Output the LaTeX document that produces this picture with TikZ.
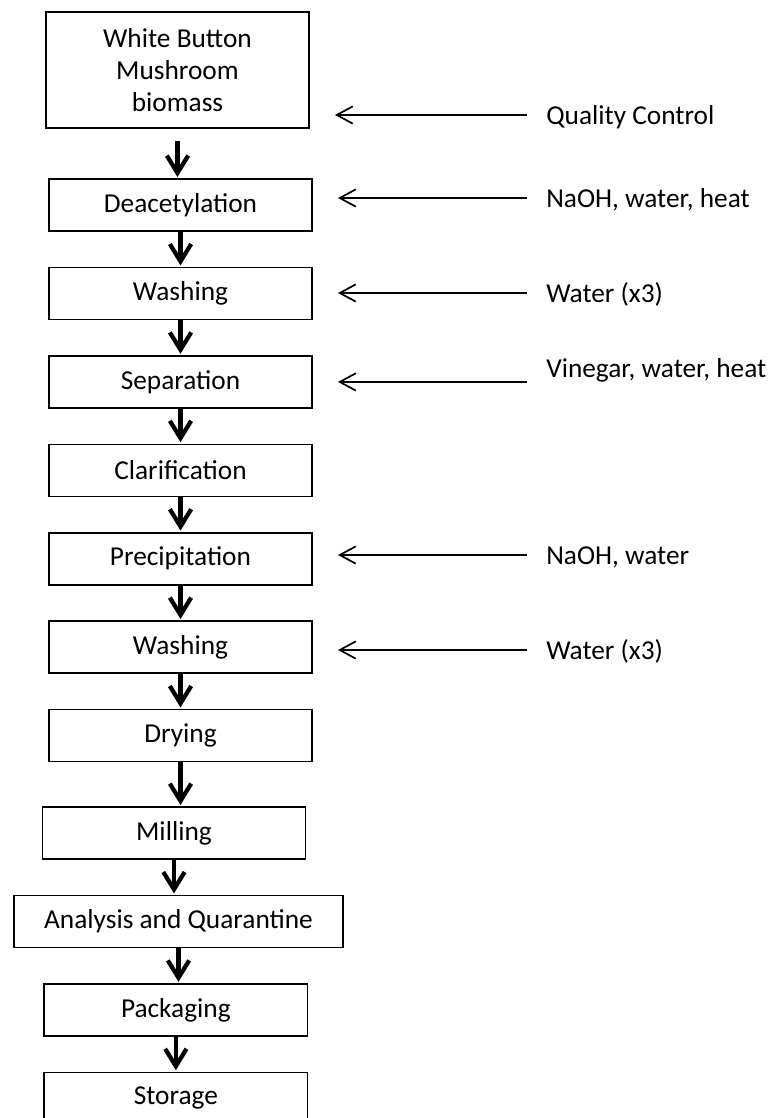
\documentclass[tikz,border=0pt]{standalone}
\usepackage{fontspec}
\setmainfont{Carlito}
\usetikzlibrary{arrows.meta, positioning}
\tikzset{
  process/.style={draw, line width=1.2pt, minimum width=197.5pt, minimum height=39pt, align=center, inner sep=0pt},
  flow/.style={-{Straight Barb[length=13pt, width=16pt]}, line width=3.2pt, shorten >=1pt},
  feed/.style={-{Straight Barb[length=12pt, width=13pt]}, line width=1.3pt, shorten <=14pt, shorten >=18.75pt},
  input/.style={anchor=west, inner sep=0pt, text height=13.5pt, text depth=0pt},
  node distance=26.1pt
}

\begin{document}
\begin{tikzpicture}[x=0.75pt, y=-0.75pt, font=\fontsize{20.5}{24}\selectfont]
\useasboundingbox (0,0) rectangle (770,1118);
% process steps
\node[process, minimum height=87.3pt] (bio) at (177.5,70) {White Button\\Mushroom\\biomass};
\node[process, below=37pt of bio, xshift=2.25pt] (deac) {Deacetylation};
\node[process, below=of deac] (wash1) {Washing};
\node[process, below=of wash1] (sep) {Separation};
\node[process, below=of sep] (clar) {Clarification};
\node[process, below=of clar] (prec) {Precipitation};
\node[process, below=of prec] (wash2) {Washing};
\node[process, below=of wash2] (dry) {Drying};
\node[process, below=33pt of dry, xshift=-4.9pt] (mill) {Milling};
\node[process, below=of mill, xshift=3.4pt, minimum width=247pt] (qa) {Analysis and Quarantine};
\node[process, below=of qa, xshift=-2pt] (pack) {Packaging};
\node[process, below=of pack] (store) {Storage};
\draw[flow, shorten <=9pt] (bio) -- (bio |- deac.north);
\draw[flow] (deac) -- (deac |- wash1.north);
\draw[flow] (wash1) -- (wash1 |- sep.north);
\draw[flow] (sep) -- (sep |- clar.north);
\draw[flow] (clar) -- (clar |- prec.north);
\draw[flow] (prec) -- (prec |- wash2.north);
\draw[flow] (wash2) -- (wash2 |- dry.north);
\draw[flow] (dry) -- (dry |- mill.north);
\draw[flow] (mill) -- (mill |- qa.north);
\draw[flow] (qa) -- (qa |- pack.north);
\draw[flow] (pack) -- (pack |- store.north);
% inputs
\node[input] (qc) at (546,115) {Quality Control};
\node[input] (naoh1) at (546,198) {NaOH, water, heat};
\node[input] (water1) at (546,293) {Water (x3)};
\node[input] (vin) at (546,368) {Vinegar, water, heat};
\node[input] (naoh2) at (546,555) {NaOH, water};
\node[input] (water2) at (546,650) {Water (x3)};
\draw[feed] (qc.west) -- (qc.west -| bio.east);
\draw[feed] (naoh1.west) -- (naoh1.west -| deac.east);
\draw[feed] (water1.west) -- (water1.west -| wash1.east);
\draw[feed] (vin.west |- sep.east) -- (sep.east);
\draw[feed] (naoh2.west) -- (naoh2.west -| prec.east);
\draw[feed] (water2.west) -- (water2.west -| wash2.east);
\end{tikzpicture}
\end{document}
